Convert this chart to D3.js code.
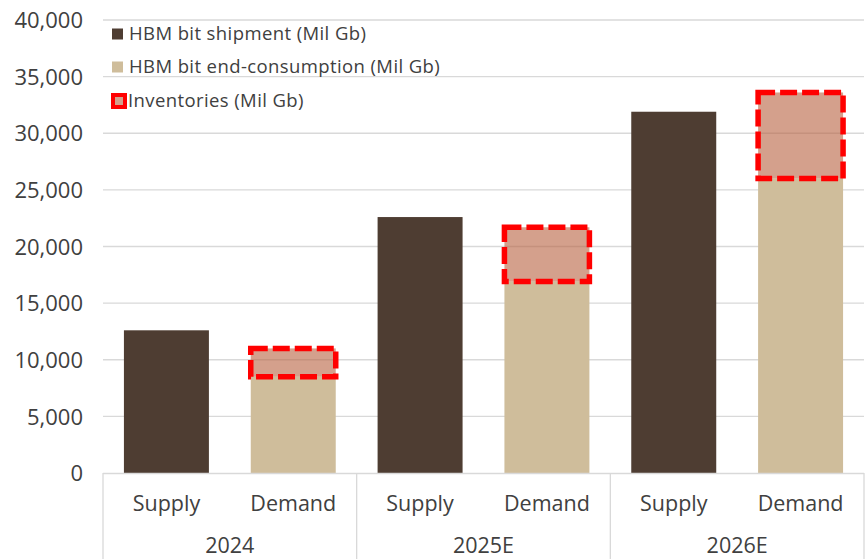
<!DOCTYPE html>
<html><head><meta charset="utf-8">
<script src="https://cdn.jsdelivr.net/npm/d3@7"></script>
<style>html,body{margin:0;padding:0;background:#fff;}svg{display:block;}</style>
</head><body>
<script>
const years = ["2024", "2025E", "2026E"];
const sides = ["Supply", "Demand"];
const shipment = [12600, 22600, 31900];      // Supply bars
const consumption = [8500, 16900, 26000];    // Demand bars
const inventories = [2500, 4800, 7600];      // stacked on Demand
const yTicks = [0, 5000, 10000, 15000, 20000, 25000, 30000, 35000, 40000];
const legendLabels = ["HBM bit shipment (Mil Gb)", "HBM bit end-consumption (Mil Gb)", "Inventories (Mil Gb)"];

const W = 868, H = 559;
const L = 103, R = 864, T = 20, B = 473;
const font = "'Open Sans', sans-serif";
const cShip = "#4E3D32", cCons = "#CFBD9B", cInvFill = "rgb(183,97,63)", cRed = "#FF0000";

const svg = d3.select("body").append("svg").attr("width", W).attr("height", H);

const cats = [];
years.forEach((y, i) => sides.forEach(s => cats.push({year: y, side: s, i})));
const x = d3.scaleBand().domain(cats.map((d, k) => k)).range([L, R]).paddingInner(0.33).paddingOuter(0.165);
const y = d3.scaleLinear().domain([0, 40000]).range([B, T]);

// gridlines
svg.append("g").selectAll("line").data(yTicks.filter(t => t > 0)).join("line")
  .attr("x1", L).attr("x2", R).attr("y1", d => y(d)).attr("y2", d => y(d))
  .attr("stroke", "#D9D9D9").attr("stroke-width", 1.3);

// y axis labels
const yAxis = d3.axisLeft(y).tickValues(yTicks).tickFormat(d3.format(",")).tickSize(0).tickPadding(0);
const ya = svg.append("g").attr("transform", `translate(${L - 20},0)`).call(yAxis);
ya.select(".domain").remove();
ya.selectAll("text").attr("font-family", font).attr("font-size", 22).attr("fill", "#404040").attr("dy", "0.35em");

// bars
const g = svg.append("g");
cats.forEach((c, k) => {
  if (c.side === "Supply") {
    g.append("rect").attr("x", x(k)).attr("width", x.bandwidth())
      .attr("y", y(shipment[c.i])).attr("height", y(0) - y(shipment[c.i])).attr("fill", cShip);
  } else {
    g.append("rect").attr("x", x(k)).attr("width", x.bandwidth())
      .attr("y", y(consumption[c.i])).attr("height", y(0) - y(consumption[c.i])).attr("fill", cCons);
    const top = consumption[c.i] + inventories[c.i];
    g.append("rect").attr("x", x(k)).attr("width", x.bandwidth())
      .attr("y", y(top)).attr("height", y(consumption[c.i]) - y(top))
      .attr("fill", cInvFill).attr("fill-opacity", 0.6)
      .attr("stroke", cRed).attr("stroke-width", 5.5).attr("stroke-dasharray", "17,5");
  }
});

// category axis
const ax = svg.append("g");
ax.append("line").attr("x1", L).attr("x2", R).attr("y1", B + 0.5).attr("y2", B + 0.5).attr("stroke", "#D9D9D9").attr("stroke-width", 1.3);
const bounds = [L, (x(1) + x.bandwidth() + x(2)) / 2, (x(3) + x.bandwidth() + x(4)) / 2, R];
ax.selectAll(".sep").data(bounds).join("line").attr("class", "sep")
  .attr("x1", d => d).attr("x2", d => d).attr("y1", B).attr("y2", H)
  .attr("stroke", "#D9D9D9").attr("stroke-width", 1.3);
ax.selectAll(".cl").data(cats).join("text").attr("class", "cl")
  .attr("x", (d, k) => x(k) + x.bandwidth() / 2).attr("y", 503).attr("dy", "0.35em")
  .attr("text-anchor", "middle").attr("font-family", font).attr("font-size", 21.5).attr("fill", "#404040")
  .text(d => d.side);
ax.selectAll(".yl").data(years).join("text").attr("class", "yl")
  .attr("x", (d, i) => (bounds[i] + bounds[i + 1]) / 2).attr("y", 545).attr("dy", "0.35em")
  .attr("text-anchor", "middle").attr("font-family", font).attr("font-size", 21.5).attr("fill", "#404040")
  .text(d => d);

// legend
const lg = svg.append("g");
const rowsY = [34, 67, 101];
lg.append("rect").attr("x", 112).attr("y", rowsY[0] - 5.5).attr("width", 11).attr("height", 11).attr("fill", cShip);
lg.append("rect").attr("x", 112).attr("y", rowsY[1] - 5.5).attr("width", 11).attr("height", 11).attr("fill", cCons);
lg.append("rect").attr("x", 113).attr("y", rowsY[2] - 6).attr("width", 12).attr("height", 12)
  .attr("fill", cInvFill).attr("fill-opacity", 0.6).attr("stroke", cRed).attr("stroke-width", 4);
lg.selectAll("text").data(legendLabels).join("text")
  .attr("x", (d, i) => i === 2 ? 128 : 129).attr("y", (d, i) => rowsY[i]).attr("dy", "0.35em")
  .attr("font-family", font).attr("font-size", 18.5).attr("letter-spacing", 0.4).attr("fill", "#404040").text(d => d);
</script>
</body></html>
